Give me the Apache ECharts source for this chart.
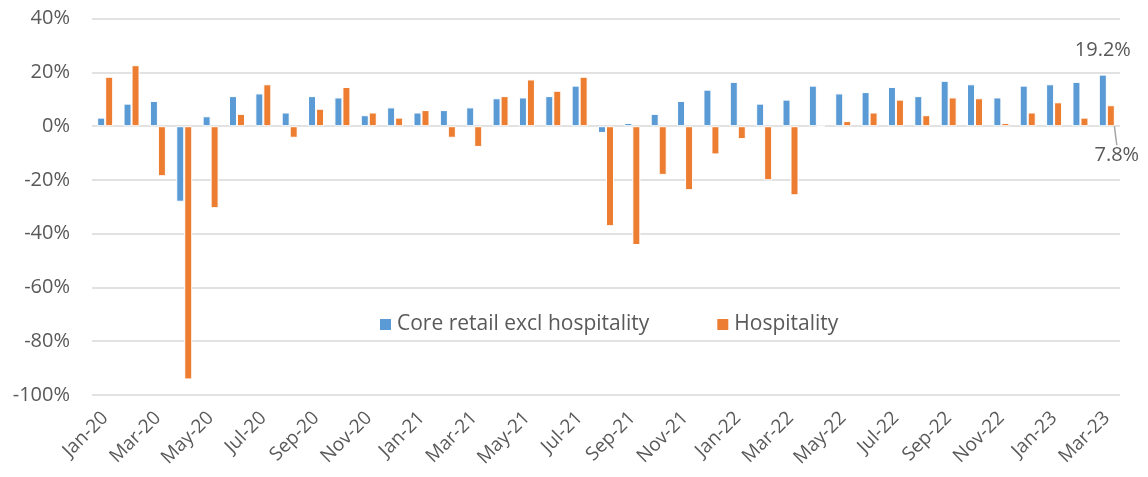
<!DOCTYPE html>
<html><head><meta charset="utf-8">
<script src="https://cdn.jsdelivr.net/npm/echarts@6/dist/echarts.min.js"></script>
<style>html,body{margin:0;padding:0;background:#fff}#c{width:1148px;height:477px}</style>
</head><body><div id="c"></div>
<script>
const categories = ["Jan-20","Feb-20","Mar-20","Apr-20","May-20","Jun-20","Jul-20","Aug-20","Sep-20","Oct-20","Nov-20","Dec-20",
"Jan-21","Feb-21","Mar-21","Apr-21","May-21","Jun-21","Jul-21","Aug-21","Sep-21","Oct-21","Nov-21","Dec-21",
"Jan-22","Feb-22","Mar-22","Apr-22","May-22","Jun-22","Jul-22","Aug-22","Sep-22","Oct-22","Nov-22","Dec-22",
"Jan-23","Feb-23","Mar-23"];
const coreRetail = [3.2,8.4,9.4,-28.1,3.7,11.2,12.2,5.1,11.2,10.7,4.1,7.0,
5.1,6.0,7.0,10.4,10.7,11.2,15.1,-2.5,1.2,4.6,9.4,13.6,
16.5,8.4,9.9,15.1,12.2,12.7,14.6,11.2,16.9,15.6,10.7,15.1,
15.6,16.5,19.2];
const hospitality = [18.4,22.7,-18.6,-94.2,-30.5,4.6,15.6,-4.3,6.5,14.6,5.1,3.2,
6.0,-4.3,-7.7,11.2,17.4,13.2,18.4,-37.2,-44.2,-18.1,-23.8,-10.5,
-4.8,-20.1,-25.7,0,1.9,5.1,9.9,4.1,10.7,10.4,1.2,5.1,
8.9,3.2,7.8];
const seriesNames = ["Core retail excl hospitality","Hospitality"];
const yTicks = {min:-100,max:40,interval:20};

const FONT = "'Open Sans', 'Noto Sans', sans-serif";
const TXT = '#595959';
const last = categories.length - 1;

const chart = echarts.init(document.getElementById('c'), null, {renderer:'canvas'});
chart.setOption({
  animation:false,
  textStyle:{fontFamily:FONT},
  grid:{left:92,right:28,top:18.7,bottom:82,containLabel:false},
  legend:{
    data:seriesNames,
    left:373, top:309,
    itemWidth:13, itemHeight:13, itemGap:66,
    icon:'rect',
    textStyle:{color:TXT,fontSize:21,fontFamily:FONT}
  },
  xAxis:{
    type:'category', data:categories,
    axisLine:{show:false,onZero:false},
    axisTick:{show:false},
    splitLine:{show:false},
    axisLabel:{interval:1,rotate:45,color:TXT,fontSize:19,fontFamily:FONT,margin:20}
  },
  yAxis:{
    type:'value', min:yTicks.min, max:yTicks.max, interval:yTicks.interval,
    axisLine:{show:false}, axisTick:{show:false},
    splitLine:{lineStyle:{color:'#d9d9d9',width:1.5}},
    axisLabel:{formatter:'{value}%',color:TXT,fontSize:20,fontFamily:FONT,margin:22}
  },
  series:[
    {
      name:seriesNames[0], type:'bar', barWidth:8, barGap:'0%',
      itemStyle:{color:'#5B9BD5',borderColor:'#fff',borderWidth:1},
      data:coreRetail.map((v,i)=> i===last ? {value:v,label:{show:true,position:'top',distance:14,formatter:p=>p.value.toFixed(1)+'%',color:TXT,fontSize:20,fontFamily:FONT}} : v)
    },
    {
      name:seriesNames[1], type:'bar', barWidth:8,
      itemStyle:{color:'#ED7D31',borderColor:'#fff',borderWidth:1},
      labelLine:{show:true,lineStyle:{color:'#a6a6a6',width:1.5}},
      labelLayout:function(p){ return p.dataIndex===last ? {dx:6,dy:62} : {}; },
      data:hospitality.map((v,i)=> i===last ? {value:v,label:{show:true,position:'top',distance:2,formatter:p=>p.value.toFixed(1)+'%',color:TXT,fontSize:20,fontFamily:FONT}} : v)
    }
  ]
});
</script></body></html>
